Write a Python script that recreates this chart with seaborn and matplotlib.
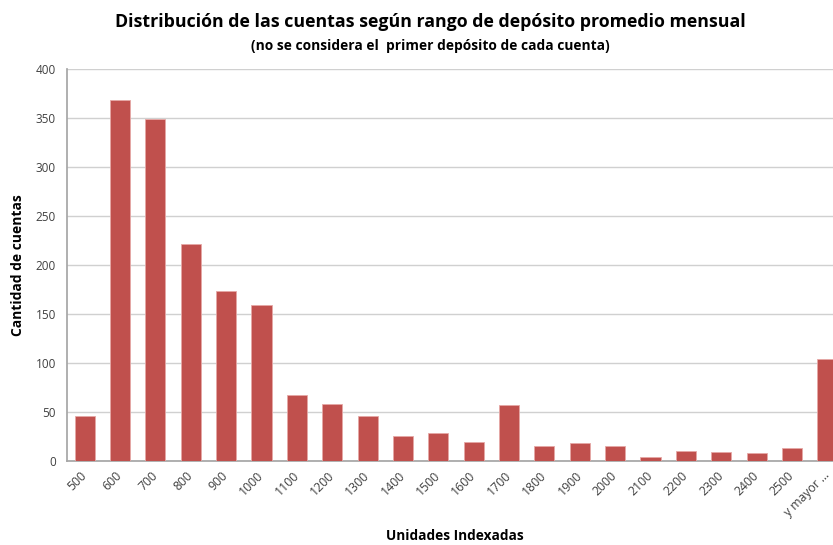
import matplotlib
matplotlib.use("Agg")
import matplotlib.pyplot as plt
import seaborn as sns
import pandas as pd

categories = ["500", "600", "700", "800", "900", "1000", "1100", "1200", "1300",
              "1400", "1500", "1600", "1700", "1800", "1900", "2000", "2100",
              "2200", "2300", "2400", "2500", "y mayor ..."]
counts = [46, 368, 349, 221, 173, 159, 67, 58, 46, 26, 29, 19, 57, 15, 18, 15,
          4, 10, 9, 8, 13, 104]
yticks = [0, 50, 100, 150, 200, 250, 300, 350, 400]

df = pd.DataFrame({"cat": categories, "n": counts})

sns.set_theme(style="white")
plt.rcParams['font.family'] = ['Open Sans', 'DejaVu Sans']

W, H = 833, 545
fig = plt.figure(figsize=(W / 100, H / 100), dpi=100)
left, right, top, bottom = 67, 845, 69, 461
ax = fig.add_axes([left / W, 1 - bottom / H, (right - left) / W, (bottom - top) / H])

sns.barplot(data=df, x="cat", y="n", ax=ax, color="#C0504D", width=0.57,
            saturation=1, edgecolor="#E6A8A6", linewidth=0.6, zorder=3)

ax.set_xlim(-0.5, len(categories) - 0.5)
ax.set_ylim(0, 400)
ax.set_yticks(yticks)
ax.yaxis.grid(True, color="#D0D0D0", linewidth=1, zorder=0)
ax.set_axisbelow(True)
for s in ["top", "right"]:
    ax.spines[s].set_visible(False)
ax.spines["left"].set_color("#A6A6A6")
ax.spines["bottom"].set_color("#A6A6A6")
ax.tick_params(axis="y", labelsize=8.5, colors="#404040", length=0, pad=8)
ax.tick_params(axis="x", labelsize=8.8, colors="#404040", length=0, pad=9)
plt.setp(ax.get_xticklabels(), rotation=45, ha="right", va="center",
         rotation_mode="anchor", color="#404040")

ax.set_xlabel("")
ax.set_ylabel("")
fig.text(455 / W, 1 - 536 / H, "Unidades Indexadas", ha="center", va="center",
         fontsize=9.8, fontweight="bold", color="#000000")
fig.text(18 / W, 1 - 265 / H, "Cantidad de cuentas", ha="center", va="center",
         rotation=90, fontsize=10, fontweight="bold", color="#000000")
fig.text(430 / W, 1 - 22 / H, "Distribución de las cuentas según rango de depósito promedio mensual",
         ha="center", va="center", fontsize=12.8, fontweight="bold", color="#000000")
fig.text(430 / W, 1 - 46 / H, "(no se considera el  primer depósito de cada cuenta)",
         ha="center", va="center", fontsize=9.9, fontweight="bold", color="#000000")

fig.savefig("out.png", dpi=100)
